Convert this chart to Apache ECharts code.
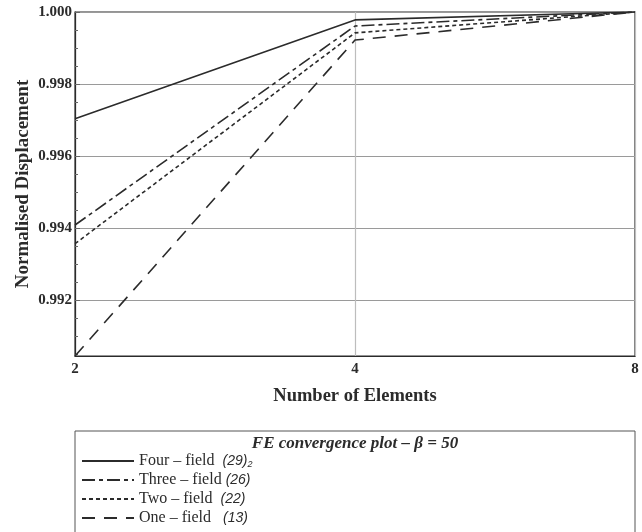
<!DOCTYPE html>
<html>
<head>
<meta charset="utf-8">
<script src="https://cdn.jsdelivr.net/npm/echarts@6/dist/echarts.min.js"></script>
<style>
  html, body { margin: 0; padding: 0; background: #fff; }
  #chart { width: 642px; height: 532px; }
</style>
</head>
<body>
<div id="chart"></div>
<script>
// Mesh sizes (number of elements)
const elements = ['2', '4', '8'];

// Normalised tip displacement for each formulation
const fourField  = [0.99703, 0.99978, 1.00000];
const threeField = [0.99408, 0.99961, 1.00000];
const twoField   = [0.99356, 0.99942, 1.00000];
const oneField   = [0.99044, 0.99922, 1.00000];

const seriesNames = ['Four \u2013 field', 'Three \u2013 field', 'Two \u2013 field', 'One \u2013 field'];
const seriesRefs  = ['(29)', '(26)', '(22)', '(13)'];
const refPad      = ['  ', ' ', '  ', '   '];
const refSub      = ['2', '', '', ''];

const yTicks = [0.992, 0.994, 0.996, 0.998, 1.000];

const serif = 'Liberation Serif';
const ink = '#2b2b2b';

const lineTypes = ['solid', [13, 4, 4, 4], [4, 3], [13, 9]];
const seriesData = [fourField, threeField, twoField, oneField];

const chart = echarts.init(document.getElementById('chart'), null, { renderer: 'canvas' });

chart.setOption({
  animation: false,
  backgroundColor: '#fff',
  grid: {
    left: 75, right: 7, top: 12, bottom: 176,
    show: true, borderColor: ink, borderWidth: 1.2
  },
  title: {
    text: 'FE convergence plot \u2013 \u03b2 = 50',
    left: 350, top: 430, textAlign: 'center',
    textStyle: { fontFamily: serif, fontStyle: 'italic', fontWeight: 'bold', fontSize: 17, color: ink }
  },
  graphic: [{
    type: 'rect',
    shape: { x: 75, y: 431, width: 560, height: 110 },
    style: { fill: 'none', stroke: '#555', lineWidth: 1 },
    z: -1
  }],
  legend: {
    orient: 'vertical',
    left: 81, top: 453,
    padding: 0,
    itemWidth: 52, itemHeight: 12, itemGap: 3,
    itemStyle: { opacity: 0 },
    data: seriesNames,
    formatter: function (name) {
      const i = seriesNames.indexOf(name);
      return '{n|' + name + refPad[i] + '}{c|' + seriesRefs[i] + '}' + (refSub[i] ? '{s|' + refSub[i] + '}' : '');
    },
    textStyle: {
      rich: {
        n: { fontFamily: serif, fontSize: 16, color: ink },
        c: { fontFamily: 'Liberation Sans', fontStyle: 'italic', fontSize: 14, color: ink },
        s: { fontFamily: 'Liberation Sans', fontStyle: 'italic', fontSize: 9, color: ink, verticalAlign: 'bottom', padding: [6, 0, 0, 0] }
      }
    }
  },
  xAxis: {
    type: 'category',
    data: elements,
    boundaryGap: false,
    name: 'Number of Elements',
    nameLocation: 'middle',
    nameGap: 31,
    nameTextStyle: { fontFamily: serif, fontWeight: 'bold', fontSize: 18.5, color: ink },
    axisLine: { lineStyle: { color: ink, width: 1.2 } },
    axisTick: { show: false },
    axisLabel: { fontFamily: serif, fontWeight: 'bold', fontSize: 15, color: ink, margin: 6 },
    splitLine: { show: true, lineStyle: { color: '#bdbdbd', width: 1.2 } }
  },
  yAxis: {
    type: 'value',
    min: 0.99044,
    max: 1.0,
    name: 'Normalised Displacement',
    nameLocation: 'middle',
    nameGap: 42,
    nameMoveOverlap: false,
    nameTextStyle: { fontFamily: serif, fontWeight: 'bold', fontSize: 19, color: ink },
    axisLine: { show: true, lineStyle: { color: ink, width: 1.2 } },
    axisTick: { show: true, inside: true, length: 5, customValues: yTicks, lineStyle: { color: '#666' } },
    minorTick: { show: true, splitNumber: 4, length: 3, lineStyle: { color: '#666' } },
    axisLabel: {
      customValues: yTicks,
      fontFamily: serif, fontWeight: 'bold', fontSize: 15, color: ink, margin: 3,
      formatter: v => v.toFixed(3)
    },
    splitLine: { show: true, lineStyle: { color: '#9a9a9a', width: 1 } }
  },
  series: seriesNames.map((name, i) => ({
    name: name,
    type: 'line',
    data: seriesData[i],
    symbol: 'none',
    lineStyle: { color: ink, width: 1.6, type: lineTypes[i] },
    itemStyle: { color: ink }
  }))
});
</script>
</body>
</html>
